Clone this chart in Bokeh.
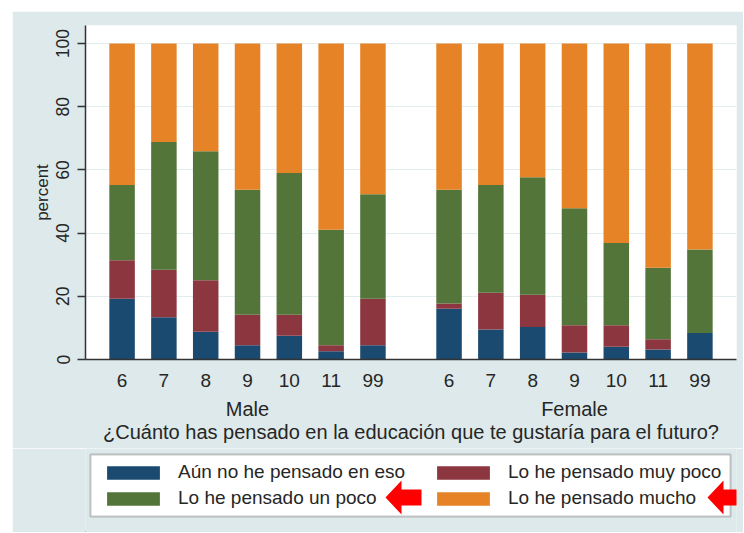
from bokeh.plotting import figure
from bokeh.models import (FactorRange, Range1d, FixedTicker, Legend, LegendItem,
                          ColumnDataSource, PolyAnnotation, Spacer)
from bokeh.layouts import column, row
from bokeh.embed import file_html
from bokeh.resources import INLINE

# ---------------- data ----------------
sexes = ["Male", "Female"]
grades = ["6", "7", "8", "9", "10", "11", "99"]
series = ["Aún no he pensado en eso", "Lo he pensado muy poco",
          "Lo he pensado un poco", "Lo he pensado mucho"]

aun_male = [19.2, 13.4, 8.8, 4.5, 7.5, 2.6, 4.5]
muy_poco_male = [12.2, 15.0, 16.3, 9.7, 6.7, 1.9, 14.7]
un_poco_male = [23.8, 40.4, 40.8, 39.5, 44.8, 36.6, 33.1]
mucho_male = [44.8, 31.2, 34.1, 46.3, 41.0, 58.9, 47.7]

aun_female = [16.1, 9.5, 10.3, 2.2, 4.0, 3.2, 8.4]
muy_poco_female = [1.6, 11.6, 10.2, 8.6, 6.8, 3.2, 0.0]
un_poco_female = [36.0, 34.1, 37.2, 37.1, 26.1, 22.6, 26.4]
mucho_female = [46.3, 44.8, 42.3, 52.1, 63.1, 71.0, 65.2]

y_ticks = [0, 20, 40, 60, 80, 100]

colors = ["#1b4a70", "#8c3640", "#53753a", "#e58326"]
PANEL = "#dde9ea"
FONT = "Liberation Sans"
TXT = "#262626"

factors = [(s, g) for s in sexes for g in grades]
keys = ["aun", "muy_poco", "un_poco", "mucho"]
source = ColumnDataSource(dict(
    x=factors,
    aun=aun_male + aun_female,
    muy_poco=muy_poco_male + muy_poco_female,
    un_poco=un_poco_male + un_poco_female,
    mucho=mucho_male + mucho_female,
))

# page offset of the panel
OX, OY = 12, 11
W = 731
H1 = 437           # chart part
H2 = 84            # legend part
FL, FT, FB = 85 - OX, 25 - OY, 359 - OY   # frame left/top/bottom inside figure
FR = W - (736 - OX)                        # right border

p = figure(width=W, height=H1, output_backend="svg", toolbar_location=None,
           x_range=FactorRange(*factors, factor_padding=0.0, group_padding=0.82,
                               range_padding=0.0506),
           y_range=Range1d(0, 105.7),
           min_border_left=FL, min_border_top=FT, min_border_right=FR,
           min_border_bottom=H1 - FB)

p.background_fill_color = "white"
p.border_fill_color = PANEL
p.outline_line_color = None

rs = p.vbar_stack(keys, x="x", width=0.61, color=colors, line_color=None,
                  source=source)

# y axis
p.yaxis.ticker = FixedTicker(ticks=y_ticks)
p.yaxis.major_label_orientation = "vertical"
p.yaxis.axis_label = "percent"
p.yaxis.axis_label_text_font_style = "normal"
p.yaxis.axis_label_text_font_size = "17px"
p.yaxis.axis_label_text_font = FONT
p.yaxis.axis_label_text_color = TXT
p.yaxis.axis_label_standoff = 2
p.yaxis.major_label_text_font_size = "17.5px"
p.yaxis.major_label_text_font = FONT
p.yaxis.major_label_text_color = TXT
p.yaxis.major_label_standoff = 8
p.yaxis.major_tick_out = 8
p.yaxis.major_tick_in = 0
p.yaxis.minor_tick_line_color = None
p.yaxis.axis_line_color = "#333333"
p.yaxis.axis_line_width = 1.5
p.yaxis.major_tick_line_color = "#333333"
p.yaxis.major_tick_line_width = 1.5

# x axis
p.xaxis.axis_label = "¿Cuánto has pensado en la educación que te gustaría para el futuro?"
p.xaxis.axis_label_text_font_style = "normal"
p.xaxis.axis_label_text_font_size = "20px"
p.xaxis.axis_label_text_font = FONT
p.xaxis.axis_label_text_color = TXT
p.xaxis.axis_label_standoff = -2
p.xaxis.major_label_text_font_size = "19px"
p.xaxis.major_label_text_font = FONT
p.xaxis.major_label_text_color = TXT
p.xaxis.major_label_standoff = 8
p.xaxis.group_text_font_size = "20px"
p.xaxis.group_text_font = FONT
p.xaxis.group_text_font_style = "normal"
p.xaxis.group_text_color = TXT
p.xaxis.separator_line_color = None
p.xaxis.major_tick_line_color = None
p.xaxis.axis_line_color = "#333333"
p.xaxis.axis_line_width = 1.5

# grid
p.xgrid.visible = False
p.ygrid.ticker = FixedTicker(ticks=y_ticks[1:])
p.ygrid.grid_line_color = "#e1edee"
p.ygrid.grid_line_width = 1.2

# ---------------- legend panel ----------------
q = figure(width=W, height=H2, output_backend="svg", toolbar_location=None,
           x_range=Range1d(0, W - FL), y_range=Range1d(0, H2),
           x_axis_type=None, y_axis_type=None,
           min_border_left=FL, min_border_right=0, min_border_top=0,
           min_border_bottom=0)
q.background_fill_color = PANEL
q.border_fill_color = PANEL
q.outline_line_color = None
q.xgrid.visible = False
q.ygrid.visible = False

# legend swatch renderers (placed outside the visible range)
swatches = [q.vbar(x=[-50], top=[1], width=1, color=c, line_color=None) for c in colors]


def to_q(px, py):
    # page pixel -> frame-relative screen units of the legend figure
    return (px - 85, (OY + H1 + H2) - py)


# legend frame box
bl, bb = to_q(90, 516)
br, bt = to_q(730, 454)
q.add_layout(PolyAnnotation(xs=[bl, br, br, bl], ys=[bb, bb, bt, bt],
                            xs_units="screen", ys_units="screen",
                            fill_color="white", fill_alpha=1,
                            line_color="#4a4a4a", line_width=2, level="underlay"))


def style_legend(lg):
    lg.label_text_font_size = "19px"
    lg.label_text_font = FONT
    lg.label_text_color = TXT
    lg.glyph_width = 66
    lg.glyph_height = 17
    lg.label_standoff = 12
    lg.label_height = 21
    lg.spacing = 4
    lg.margin = 0
    lg.padding = 0
    lg.border_line_color = None
    lg.background_fill_alpha = 0


legend_a = Legend(items=[LegendItem(label=series[0], renderers=[swatches[0]]),
                         LegendItem(label=series[2], renderers=[swatches[2]])],
                  orientation="vertical")
style_legend(legend_a)
legend_a.location = to_q(100, 509)
q.add_layout(legend_a, "center")

legend_b = Legend(items=[LegendItem(label=series[1], renderers=[swatches[1]]),
                         LegendItem(label=series[3], renderers=[swatches[3]])],
                  orientation="vertical")
style_legend(legend_b)
legend_b.location = to_q(430, 509)
q.add_layout(legend_b, "center")


def arrow(tip_x, tip_y):
    xs = [tip_x, tip_x + 16, tip_x + 16, tip_x + 36, tip_x + 36, tip_x + 16, tip_x + 16]
    ys = [tip_y, tip_y + 17, tip_y + 8, tip_y + 8, tip_y - 8, tip_y - 8, tip_y - 17]
    return xs, ys


for tip in (385, 707):
    tx, ty = to_q(tip, 497)
    ax, ay = arrow(tx, ty)
    q.add_layout(PolyAnnotation(xs=ax, ys=ay, xs_units="screen", ys_units="screen",
                                fill_color="#ff0000", fill_alpha=1, line_color=None,
                                level="annotation"))

layout = column(Spacer(height=OY), row(Spacer(width=OX), column(p, q)))
open("out.html", "w").write(file_html(layout, INLINE))
